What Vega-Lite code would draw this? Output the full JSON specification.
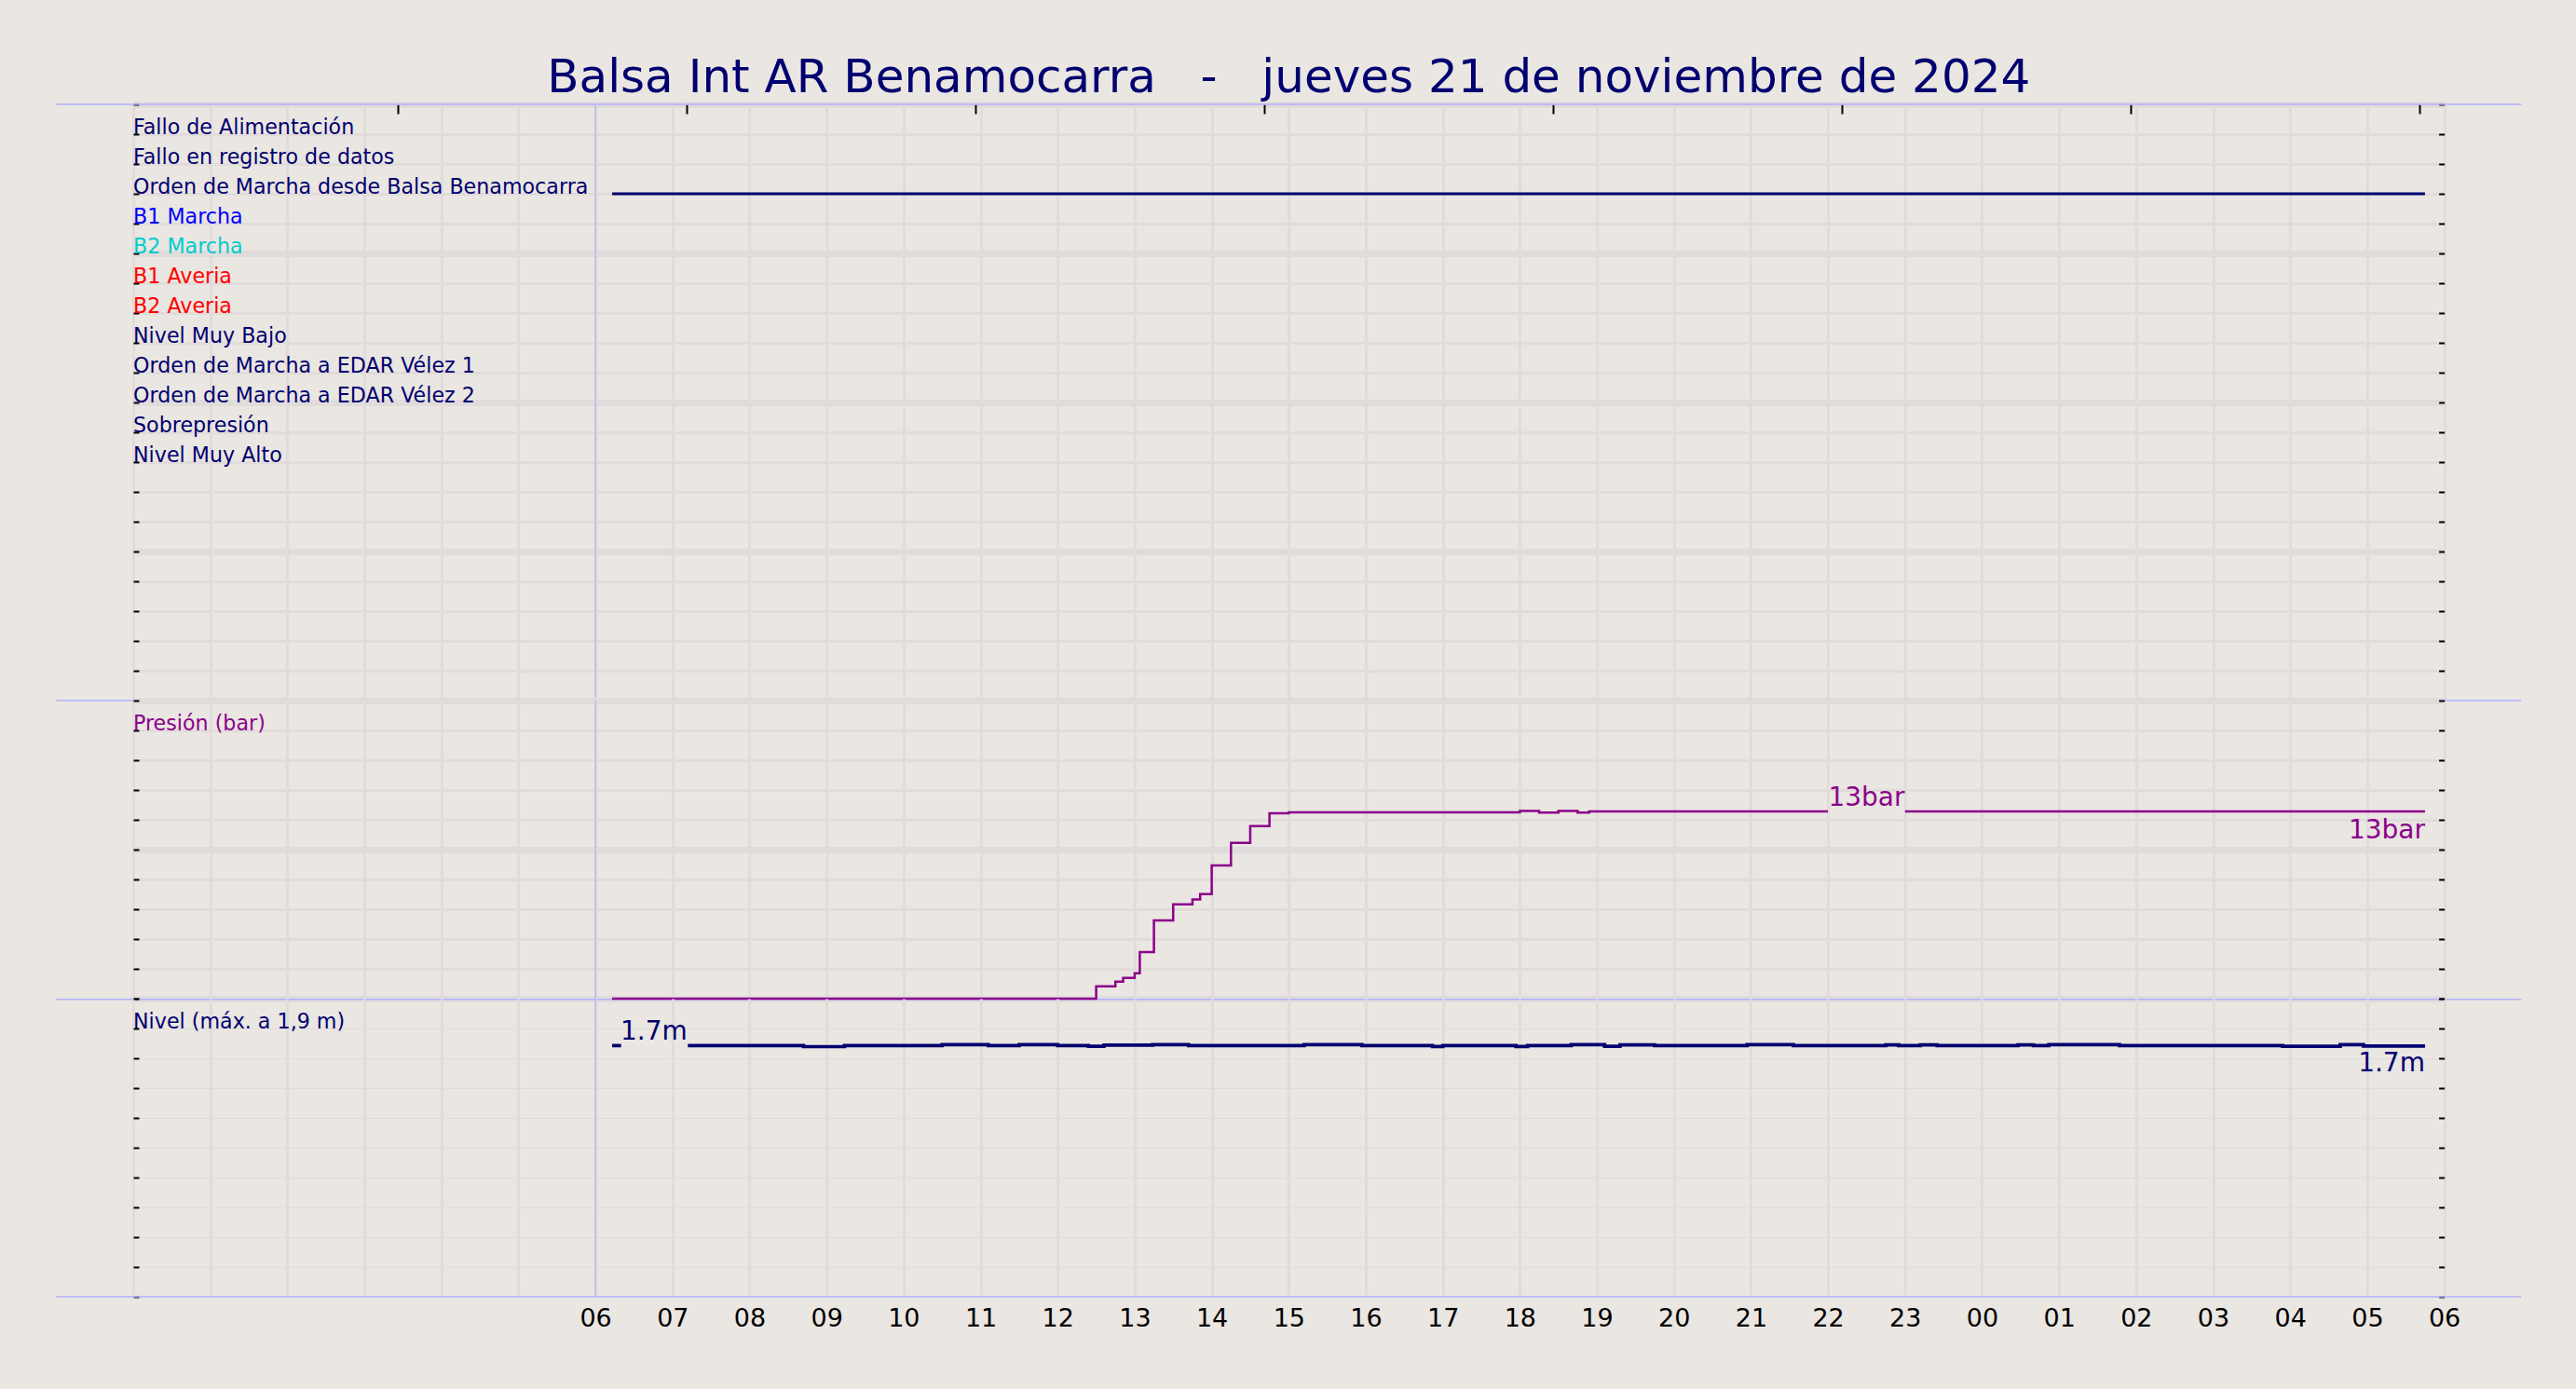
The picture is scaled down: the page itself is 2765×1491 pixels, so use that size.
{
  "$schema": "https://vega.github.io/schema/vega-lite/v6.json",
  "background": "#eae6e1",
  "padding": {"left": 59, "top": 59, "right": 60, "bottom": 80},
  "title": {"text": "Balsa Int AR Benamocarra\u00a0\u00a0\u00a0-\u00a0\u00a0\u00a0jueves 21 de noviembre de 2024", "fontSize": 50, "fontWeight": "normal", "color": "#000070", "anchor": "middle", "baseline": "alphabetic", "offset": -38, "font": "DejaVu Sans"},
  "config": {
    "font": "DejaVu Sans",
    "view": {"stroke": null},
    "axis": {"title": null, "domain": false}
  },
  "datasets": {
    "signals": [
      {"t": "2024-11-21T00:00:00Z", "row": 1, "label": "Fallo de Alimentación"},
      {"t": "2024-11-21T00:00:00Z", "row": 2, "label": "Fallo en registro de datos"},
      {"t": "2024-11-21T00:00:00Z", "row": 3, "label": "Orden de Marcha desde Balsa Benamocarra"},
      {"t": "2024-11-21T00:00:00Z", "row": 4, "label": "B1 Marcha"},
      {"t": "2024-11-21T00:00:00Z", "row": 5, "label": "B2 Marcha"},
      {"t": "2024-11-21T00:00:00Z", "row": 6, "label": "B1 Averia"},
      {"t": "2024-11-21T00:00:00Z", "row": 7, "label": "B2 Averia"},
      {"t": "2024-11-21T00:00:00Z", "row": 8, "label": "Nivel Muy Bajo"},
      {"t": "2024-11-21T00:00:00Z", "row": 9, "label": "Orden de Marcha a EDAR Vélez 1"},
      {"t": "2024-11-21T00:00:00Z", "row": 10, "label": "Orden de Marcha a EDAR Vélez 2"},
      {"t": "2024-11-21T00:00:00Z", "row": 11, "label": "Sobrepresión"},
      {"t": "2024-11-21T00:00:00Z", "row": 12, "label": "Nivel Muy Alto"}
    ],
    "orden": [
      {"t": "2024-11-21T06:13:00Z", "row": 3},
      {"t": "2024-11-22T05:45:00Z", "row": 3}
    ],
    "pres": [
      {"t": "2024-11-21T06:13:00Z", "p": 0, "seg": 1},
      {"t": "2024-11-21T12:30:00Z", "p": 0.83, "seg": 1},
      {"t": "2024-11-21T12:45:00Z", "p": 1.14, "seg": 1},
      {"t": "2024-11-21T12:51:00Z", "p": 1.39, "seg": 1},
      {"t": "2024-11-21T13:00:00Z", "p": 1.7, "seg": 1},
      {"t": "2024-11-21T13:04:00Z", "p": 3.12, "seg": 1},
      {"t": "2024-11-21T13:15:00Z", "p": 5.25, "seg": 1},
      {"t": "2024-11-21T13:30:00Z", "p": 6.33, "seg": 1},
      {"t": "2024-11-21T13:45:00Z", "p": 6.66, "seg": 1},
      {"t": "2024-11-21T13:51:00Z", "p": 7.02, "seg": 1},
      {"t": "2024-11-21T14:00:00Z", "p": 8.94, "seg": 1},
      {"t": "2024-11-21T14:15:00Z", "p": 10.46, "seg": 1},
      {"t": "2024-11-21T14:30:00Z", "p": 11.58, "seg": 1},
      {"t": "2024-11-21T14:45:00Z", "p": 12.44, "seg": 1},
      {"t": "2024-11-21T15:00:00Z", "p": 12.5, "seg": 1},
      {"t": "2024-11-21T18:00:00Z", "p": 12.6, "seg": 1},
      {"t": "2024-11-21T18:15:00Z", "p": 12.48, "seg": 1},
      {"t": "2024-11-21T18:30:00Z", "p": 12.6, "seg": 1},
      {"t": "2024-11-21T18:45:00Z", "p": 12.48, "seg": 1},
      {"t": "2024-11-21T18:54:00Z", "p": 12.56, "seg": 1},
      {"t": "2024-11-21T22:00:00Z", "p": 12.56, "seg": 1},
      {"t": "2024-11-21T23:00:00Z", "p": 12.56, "seg": 2},
      {"t": "2024-11-22T05:45:00Z", "p": 12.56, "seg": 2}
    ],
    "lvl": [
      {"t": "2024-11-21T06:13:00Z", "m": 1.685, "seg": "a"},
      {"t": "2024-11-21T06:20:00Z", "m": 1.685, "seg": "a"},
      {"t": "2024-11-21T07:12:00Z", "m": 1.685, "seg": "b"},
      {"t": "2024-11-21T08:42:00Z", "m": 1.678, "seg": "b"},
      {"t": "2024-11-21T09:14:00Z", "m": 1.685, "seg": "b"},
      {"t": "2024-11-21T10:30:00Z", "m": 1.692, "seg": "b"},
      {"t": "2024-11-21T11:06:00Z", "m": 1.685, "seg": "b"},
      {"t": "2024-11-21T11:30:00Z", "m": 1.692, "seg": "b"},
      {"t": "2024-11-21T12:00:00Z", "m": 1.685, "seg": "b"},
      {"t": "2024-11-21T12:24:00Z", "m": 1.68, "seg": "b"},
      {"t": "2024-11-21T12:36:00Z", "m": 1.688, "seg": "b"},
      {"t": "2024-11-21T13:14:00Z", "m": 1.692, "seg": "b"},
      {"t": "2024-11-21T13:42:00Z", "m": 1.685, "seg": "b"},
      {"t": "2024-11-21T15:12:00Z", "m": 1.692, "seg": "b"},
      {"t": "2024-11-21T15:57:00Z", "m": 1.685, "seg": "b"},
      {"t": "2024-11-21T16:52:00Z", "m": 1.679, "seg": "b"},
      {"t": "2024-11-21T17:00:00Z", "m": 1.685, "seg": "b"},
      {"t": "2024-11-21T17:57:00Z", "m": 1.679, "seg": "b"},
      {"t": "2024-11-21T18:06:00Z", "m": 1.685, "seg": "b"},
      {"t": "2024-11-21T18:40:00Z", "m": 1.692, "seg": "b"},
      {"t": "2024-11-21T19:06:00Z", "m": 1.68, "seg": "b"},
      {"t": "2024-11-21T19:18:00Z", "m": 1.69, "seg": "b"},
      {"t": "2024-11-21T19:45:00Z", "m": 1.685, "seg": "b"},
      {"t": "2024-11-21T20:57:00Z", "m": 1.692, "seg": "b"},
      {"t": "2024-11-21T21:33:00Z", "m": 1.685, "seg": "b"},
      {"t": "2024-11-21T22:45:00Z", "m": 1.69, "seg": "b"},
      {"t": "2024-11-21T22:55:00Z", "m": 1.685, "seg": "b"},
      {"t": "2024-11-21T23:12:00Z", "m": 1.69, "seg": "b"},
      {"t": "2024-11-21T23:25:00Z", "m": 1.685, "seg": "b"},
      {"t": "2024-11-22T00:28:00Z", "m": 1.69, "seg": "b"},
      {"t": "2024-11-22T00:40:00Z", "m": 1.685, "seg": "b"},
      {"t": "2024-11-22T00:52:00Z", "m": 1.691, "seg": "b"},
      {"t": "2024-11-22T01:47:00Z", "m": 1.685, "seg": "b"},
      {"t": "2024-11-22T03:54:00Z", "m": 1.68, "seg": "b"},
      {"t": "2024-11-22T04:39:00Z", "m": 1.691, "seg": "b"},
      {"t": "2024-11-22T04:57:00Z", "m": 1.682, "seg": "b"},
      {"t": "2024-11-22T05:45:00Z", "m": 1.682, "seg": "b"}
    ],
    "sepTop": [
      {"t1": "2024-11-20T23:00:00Z", "t2": "2024-11-22T07:00:00Z", "row": 0},
      {"t1": "2024-11-20T23:00:00Z", "t2": "2024-11-22T07:00:00Z", "row": 20}
    ],
    "sepPres": [
      {"t1": "2024-11-20T23:00:00Z", "t2": "2024-11-22T07:00:00Z", "p": 0}
    ],
    "sepLvl": [
      {"t1": "2024-11-20T23:00:00Z", "t2": "2024-11-22T07:00:00Z", "m": 0}
    ],
    "six": [{"t": "2024-11-21T06:00:00Z"}]
  },
  "spacing": 0,
  "bounds": "flush",
  "resolve": {"scale": {"x": "independent", "y": "independent"}, "axis": {"x": "independent", "y": "independent"}},
  "vconcat": [
    {
      "width": 2480.6,
      "height": 640,
      "layer": [
        {
          "data": {"name": "orden"},
          "mark": {"type": "line", "color": "#000070", "strokeWidth": 3},
          "encoding": {
            "x": {"field": "t", "type": "temporal", "scale": {"type": "utc", "nice": false, "domain": [{"year": 2024, "month": 11, "date": 21, "hours": 0, "utc": true}, {"year": 2024, "month": 11, "date": 22, "hours": 6, "utc": true}]},
              "axis": {"orient": "bottom", "grid": true, "gridColor": "#e1dcdb", "gridWidth": 3, "labels": false, "ticks": false, "domain": false, "title": null, "tickCount": 30}},
            "y": {"field": "row", "type": "quantitative", "scale": {"domain": [0, 20], "reverse": true, "nice": false, "zero": false},
              "axis": {"orient": "right", "values": [0,1,2,3,4,5,6,7,8,9,10,11,12,13,14,15,16,17,18,19,20], "grid": false, "ticks": true, "tickSize": -6, "tickWidth": 2, "tickColor": "#000000", "labels": false, "domain": false, "title": null}}
          }
        },
        {
          "data": {"name": "signals"},
          "mark": {"type": "text", "align": "left", "baseline": "alphabetic", "fontSize": 22.2, "font": "DejaVu Sans"},
          "encoding": {
            "x": {"field": "t", "type": "temporal", "axis": null},
            "y": {"field": "row", "type": "quantitative",
              "axis": {"orient": "left", "values": [0,1,2,3,4,5,6,7,8,9,10,11,12,13,14,15,16,17,18,19,20], "grid": true, "gridColor": "#e1dcdb", "gridWidth": {"condition": {"test": "datum.value % 5 === 0", "value": 7}, "value": 3}, "ticks": true, "tickSize": -6, "tickWidth": 2, "tickColor": "#000000", "labels": false, "domain": false, "title": null}},
            "text": {"field": "label"},
            "color": {"field": "label", "type": "nominal", "legend": null,
              "scale": {"domain": ["Fallo de Alimentación", "Fallo en registro de datos", "Orden de Marcha desde Balsa Benamocarra", "B1 Marcha", "B2 Marcha", "B1 Averia", "B2 Averia", "Nivel Muy Bajo", "Orden de Marcha a EDAR Vélez 1", "Orden de Marcha a EDAR Vélez 2", "Sobrepresión", "Nivel Muy Alto"],
                "range": ["#000070", "#000070", "#000070", "#0000ff", "#00cccc", "#ff0000", "#ff0000", "#000070", "#000070", "#000070", "#000070", "#000070"]}}
          }
        },
        {
          "data": {"name": "sepTop"},
          "mark": {"type": "rule", "color": "#b0b0ff", "strokeWidth": 1.5, "clip": false},
          "encoding": {
            "x": {"field": "t1", "type": "temporal",
              "axis": {"orient": "top", "values": [
                {"year": 2024, "month": 11, "date": 21, "hours": 3, "minutes": 26, "utc": true},
                {"year": 2024, "month": 11, "date": 21, "hours": 7, "minutes": 11, "utc": true},
                {"year": 2024, "month": 11, "date": 21, "hours": 10, "minutes": 56, "utc": true},
                {"year": 2024, "month": 11, "date": 21, "hours": 14, "minutes": 41, "utc": true},
                {"year": 2024, "month": 11, "date": 21, "hours": 18, "minutes": 26, "utc": true},
                {"year": 2024, "month": 11, "date": 21, "hours": 22, "minutes": 11, "utc": true},
                {"year": 2024, "month": 11, "date": 22, "hours": 1, "minutes": 56, "utc": true},
                {"year": 2024, "month": 11, "date": 22, "hours": 5, "minutes": 41, "utc": true}],
                "grid": false, "labels": false, "domain": false, "ticks": true, "tickSize": -10, "tickWidth": 2, "tickColor": "#000000", "title": null}},
            "x2": {"field": "t2"},
            "y": {"field": "row", "type": "quantitative", "axis": null}
          }
        },
        {
          "data": {"name": "six"},
          "mark": {"type": "rule", "color": "#b8b8f5", "strokeWidth": 1.5},
          "encoding": {"x": {"field": "t", "type": "temporal", "axis": null}}
        }
      ]
    },
    {
      "width": 2480.6,
      "height": 320,
      "layer": [
        {
          "data": {"name": "sepPres"},
          "mark": {"type": "rule", "color": "#b0b0ff", "strokeWidth": 1.5, "clip": false, "yOffset": 0.8},
          "encoding": {
            "x": {"field": "t1", "type": "temporal", "scale": {"type": "utc", "nice": false, "domain": [{"year": 2024, "month": 11, "date": 21, "hours": 0, "utc": true}, {"year": 2024, "month": 11, "date": 22, "hours": 6, "utc": true}]},
              "axis": {"orient": "bottom", "grid": true, "gridColor": "#e1dcdb", "gridWidth": 3, "labels": false, "ticks": false, "domain": false, "title": null, "tickCount": 30}},
            "x2": {"field": "t2"},
            "y": {"field": "p", "type": "quantitative", "scale": {"domain": [0, 20], "nice": false, "zero": false},
              "axis": {"orient": "left", "values": [0,2,4,6,8,10,12,14,16,18,20], "grid": true, "gridColor": "#e1dcdb", "gridWidth": {"condition": {"test": "datum.value % 10 === 0", "value": 7}, "value": 3}, "ticks": true, "tickSize": -6, "tickWidth": 2, "tickColor": "#000000", "labels": false, "domain": false, "title": null}}
          }
        },
        {
          "data": {"name": "pres"},
          "mark": {"type": "line", "interpolate": "step-after", "color": "#8b008b", "strokeWidth": 2.5},
          "encoding": {
            "x": {"field": "t", "type": "temporal", "axis": null},
            "y": {"field": "p", "type": "quantitative", "axis": null},
            "detail": {"field": "seg", "type": "nominal"}
          }
        },
        {
          "data": {"values": [{"t": "2024-11-21T00:00:00Z", "p": 18, "label": "Presión (bar)"}]},
          "mark": {"type": "text", "align": "left", "baseline": "alphabetic", "fontSize": 22.2, "color": "#8b008b"},
          "encoding": {
            "x": {"field": "t", "type": "temporal",
              "axis": {"orient": "top", "grid": false, "labels": false, "ticks": false, "domain": false, "title": null}},
            "y": {"field": "p", "type": "quantitative", "axis": null},
            "text": {"field": "label"}
          }
        },
        {
          "data": {"values": [{"t": "2024-11-21T22:30:00Z", "p": 12.56, "label": "13bar"}]},
          "mark": {"type": "text", "align": "center", "baseline": "alphabetic", "dy": -6, "fontSize": 28, "color": "#8b008b"},
          "encoding": {
            "x": {"field": "t", "type": "temporal", "axis": null},
            "y": {"field": "p", "type": "quantitative", "axis": null},
            "text": {"field": "label"}
          }
        },
        {
          "data": {"values": [{"t": "2024-11-22T05:45:00Z", "p": 12.56, "label": "13bar"}]},
          "mark": {"type": "text", "align": "right", "baseline": "alphabetic", "dy": 29, "fontSize": 28, "color": "#8b008b"},
          "encoding": {
            "x": {"field": "t", "type": "temporal", "axis": null},
            "y": {"field": "p", "type": "quantitative",
              "axis": {"orient": "right", "values": [0,2,4,6,8,10,12,14,16,18,20], "grid": false, "ticks": true, "tickSize": -6, "tickWidth": 2, "tickColor": "#000000", "labels": false, "domain": false, "title": null}},
            "text": {"field": "label"}
          }
        },
        {
          "data": {"name": "six"},
          "mark": {"type": "rule", "color": "#b8b8f5", "strokeWidth": 1.5},
          "encoding": {"x": {"field": "t", "type": "temporal", "axis": null}}
        }
      ]
    },
    {
      "width": 2480.6,
      "height": 320,
      "layer": [
        {
          "data": {"name": "lvl"},
          "mark": {"type": "line", "interpolate": "step-after", "color": "#000070", "strokeWidth": 3.7},
          "encoding": {
            "x": {"field": "t", "type": "temporal", "scale": {"type": "utc", "nice": false, "domain": [{"year": 2024, "month": 11, "date": 21, "hours": 0, "utc": true}, {"year": 2024, "month": 11, "date": 22, "hours": 6, "utc": true}]},
              "axis": {"orient": "bottom", "grid": true, "gridColor": "#e1dcdb", "gridWidth": 3, "labels": true, "labelFontSize": 27, "labelColor": "#000000", "labelFont": "DejaVu Sans", "labelPadding": 11, "labelFlush": false, "labelOverlap": false, "labelBound": false, "ticks": false, "domain": false, "title": null, "tickCount": 30,
                "labelExpr": "(utchours(datum.value) >= 6 || utcdate(datum.value) == 22) ? utcFormat(datum.value, '%H') : ''"}},
            "y": {"field": "m", "type": "quantitative", "scale": {"domain": [0, 2], "nice": false, "zero": false},
              "axis": {"orient": "left", "values": [0,0.2,0.4,0.6,0.8,1,1.2,1.4,1.6,1.8,2], "grid": true, "gridColor": "#e1dcdb", "gridWidth": {"condition": {"test": "datum.value == 2", "value": 0}, "value": {"condition": {"test": "datum.value == 0 || datum.value == 1", "value": 7}, "value": 3}}, "ticks": true, "tickSize": -6, "tickWidth": 2, "tickColor": "#000000", "labels": false, "domain": false, "title": null}},
            "detail": {"field": "seg", "type": "nominal"}
          }
        },
        {
          "data": {"values": [{"t": "2024-11-21T00:00:00Z", "m": 1.8, "label": "Nivel (máx. a 1,9 m)"}]},
          "mark": {"type": "text", "align": "left", "baseline": "alphabetic", "fontSize": 22.2, "color": "#000070"},
          "encoding": {
            "x": {"field": "t", "type": "temporal",
              "axis": {"orient": "top", "grid": false, "labels": false, "ticks": false, "domain": false, "title": null}},
            "y": {"field": "m", "type": "quantitative", "axis": null},
            "text": {"field": "label"}
          }
        },
        {
          "data": {"values": [{"t": "2024-11-21T06:13:00Z", "m": 1.685, "label": "1.7m"}]},
          "mark": {"type": "text", "align": "left", "baseline": "alphabetic", "dx": 9, "dy": -6, "fontSize": 28, "color": "#000070"},
          "encoding": {
            "x": {"field": "t", "type": "temporal", "axis": null},
            "y": {"field": "m", "type": "quantitative", "axis": null},
            "text": {"field": "label"}
          }
        },
        {
          "data": {"values": [{"t": "2024-11-22T05:45:00Z", "m": 1.682, "label": "1.7m"}]},
          "mark": {"type": "text", "align": "right", "baseline": "alphabetic", "dy": 27, "fontSize": 28, "color": "#000070"},
          "encoding": {
            "x": {"field": "t", "type": "temporal", "axis": null},
            "y": {"field": "m", "type": "quantitative",
              "axis": {"orient": "right", "values": [0,0.2,0.4,0.6,0.8,1,1.2,1.4,1.6,1.8,2], "grid": false, "ticks": true, "tickSize": -6, "tickWidth": 2, "tickColor": "#000000", "labels": false, "domain": false, "title": null}},
            "text": {"field": "label"}
          }
        },
        {
          "data": {"name": "sepLvl"},
          "mark": {"type": "rule", "color": "#b0b0ff", "strokeWidth": 1.5, "clip": false},
          "encoding": {
            "x": {"field": "t1", "type": "temporal", "axis": null},
            "x2": {"field": "t2"},
            "y": {"field": "m", "type": "quantitative", "axis": null}
          }
        },
        {
          "data": {"name": "six"},
          "mark": {"type": "rule", "color": "#b8b8f5", "strokeWidth": 1.5},
          "encoding": {"x": {"field": "t", "type": "temporal", "axis": null}}
        }
      ]
    }
  ]
}
